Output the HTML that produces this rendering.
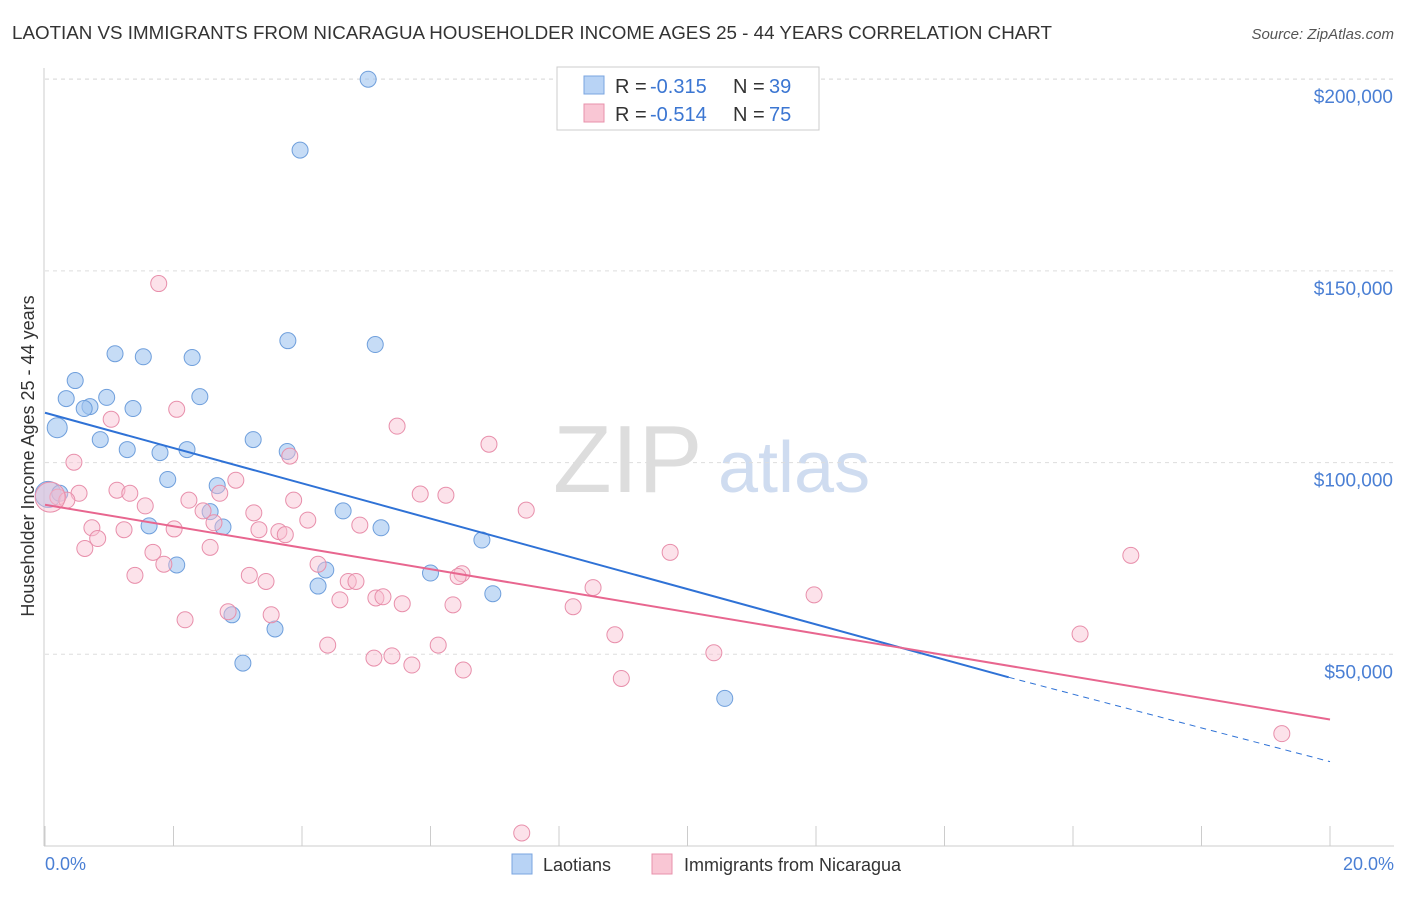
<!DOCTYPE html>
<html><head><meta charset="utf-8"><style>
body{margin:0;background:#fff;font-family:"Liberation Sans",sans-serif}
svg text{font-family:"Liberation Sans",sans-serif}
</style></head><body>
<svg id="chart" width="1406" height="892" xmlns="http://www.w3.org/2000/svg">
<text x="12" y="39" font-size="18" fill="#333" textLength="1040" lengthAdjust="spacingAndGlyphs">LAOTIAN VS IMMIGRANTS FROM NICARAGUA HOUSEHOLDER INCOME AGES 25 - 44 YEARS CORRELATION CHART</text>
<text x="1394" y="39" font-size="15" fill="#555" text-anchor="end" font-style="italic">Source: ZipAtlas.com</text>
<g><text x="553" y="492" font-size="96" fill="#ddd" font-family="Liberation Serif">ZIP</text><text x="718" y="492" font-size="72" fill="#cfdcf0">atlas</text></g>
<g id="grid"></g>
<g id="axes"></g>
<text transform="translate(34,456) rotate(-90)" font-size="18" fill="#333" text-anchor="middle">Householder Income Ages 25 - 44 years</text>
<text x="45" y="870" font-size="18" fill="#4a7fd4">0.0%</text>
<text x="1394" y="870" font-size="18" fill="#4a7fd4" text-anchor="end">20.0%</text>
<g id="pts"></g>
<g id="lines"></g>
<g>
<rect x="557" y="67" width="262" height="63" fill="#fff" stroke="#ccc"/>
<rect x="584" y="76" width="20" height="18" fill="#b8d3f5" stroke="#7aa5e0"/>
<text x="615" y="93" font-size="20" fill="#333">R =</text><text x="650" y="93" font-size="20" fill="#3b76d2">-0.315</text>
<text x="733" y="93" font-size="20" fill="#333">N =</text><text x="769" y="93" font-size="20" fill="#3b76d2">39</text>
<rect x="584" y="104" width="20" height="18" fill="#f9c6d4" stroke="#e891ab"/>
<text x="615" y="121" font-size="20" fill="#333">R =</text><text x="650" y="121" font-size="20" fill="#3b76d2">-0.514</text>
<text x="733" y="121" font-size="20" fill="#333">N =</text><text x="769" y="121" font-size="20" fill="#3b76d2">75</text>
</g>
<g>
<rect x="512" y="854" width="20" height="20" fill="#b8d3f5" stroke="#7aa5e0"/>
<text x="543" y="871" font-size="18" fill="#333">Laotians</text>
<rect x="652" y="854" width="20" height="20" fill="#f9c6d4" stroke="#e891ab"/>
<text x="684" y="871" font-size="18" fill="#333">Immigrants from Nicaragua</text>
</g>
</svg>
<script>
const yTicks=[50000,100000,150000,200000];
const yTickLabels=["$50,000","$100,000","$150,000","$200,000"];
const blueX=[5.03,3.97,3.78,5.14,1.09,1.53,2.29,0.47,0.33,0.96,2.41,0.70,0.61,1.37,0.19,0.86,1.28,1.79,2.21,3.24,3.77,1.91,2.68,0.05,0.23,2.57,1.62,2.77,4.64,5.23,6.80,2.05,4.37,4.25,6.00,6.97,2.91,3.58,3.08,10.58];
const blueY=[200000,181500,131800,130800,128400,127600,127400,121400,116700,117000,117200,114600,114100,114100,109100,106000,103400,102600,103400,106000,102900,95600,94000,91700,92000,87200,83500,83200,87400,83000,79800,73300,72000,67800,71200,65800,60300,56600,47700,38500];
const pinkX=[1.77,2.05,1.03,5.48,6.91,3.81,0.45,2.97,0.53,1.12,1.32,5.84,6.24,2.72,2.24,3.87,0.20,0.34,1.56,2.46,3.25,4.09,4.90,7.49,0.73,1.23,2.01,2.63,3.33,3.64,3.74,0.82,0.62,2.57,1.68,9.73,16.90,1.85,4.25,1.40,3.18,3.44,4.72,4.84,6.49,6.43,8.53,4.59,5.15,5.26,5.56,6.35,8.22,11.97,2.85,3.52,2.18,8.87,16.11,4.40,6.12,5.40,5.12,5.71,6.51,10.41,8.97,19.25,7.42,0.08];
const pinkY=[146700,113900,111300,109500,104800,101700,100100,95400,92000,92800,92000,91800,91500,92000,90200,90200,91000,90200,88700,87400,86900,85000,83700,87600,83000,82500,82700,84300,82500,82000,81200,80200,77600,77900,76600,76600,75800,73500,73500,70600,70600,69000,69000,69000,71000,70300,67400,64200,64700,65000,63200,62900,62400,65500,61100,60300,59000,55100,55300,52400,52400,49600,49000,47200,45900,50400,43700,29300,3400,91000];
const pinkR=Array(pinkX.length).fill(8);pinkR[pinkR.length-1]=15;
const blueR=Array(blueX.length).fill(8);blueR[23]=13;blueR[14]=10;
const blueTrend=[[0,113000],[15,44000],[20,22000]];
const pinkTrend=[[0,89000],[20,33000]];
const X=v=>45+v/20*1285, Y=v=>846-v/50000*191.7;
const NS="http://www.w3.org/2000/svg";
function mk(p,t,a){const e=document.createElementNS(NS,t);for(const k in a)e.setAttribute(k,a[k]);document.getElementById(p).appendChild(e);return e;}
yTicks.forEach((t,i)=>{
 const g=mk('grid','line',{x1:45,x2:1394,y1:Y(t),y2:Y(t),stroke:'#ddd','stroke-dasharray':'4,4'});
 
 
 const l=mk('grid','text',{x:1393,y:Y(t)+24,'font-size':19,fill:'#4a7fd4','text-anchor':'end'});l.textContent=yTickLabels[i];
 
 
});
mk('grid','line',{x1:45,x2:1394,y1:79,y2:79,stroke:'#ddd','stroke-dasharray':'4,4'});
mk('axes','line',{x1:44,x2:44,y1:68,y2:846,stroke:'#ccc'});
mk('axes','line',{x1:44,x2:1394,y1:846,y2:846,stroke:'#ccc'});
for(let i=0;i<=10;i++){const t=mk('axes','line',{x1:X(i*2),x2:X(i*2),y1:826,y2:846,stroke:'#ccc'});
 
 }
blueX.forEach((x,i)=>{const c=mk('pts','circle',{cx:X(x),cy:Y(blueY[i]),r:blueR[i],fill:'rgba(160,196,240,0.6)',stroke:'#6f9fdc','stroke-width':1});
 
 });
pinkX.forEach((x,i)=>{const c=mk('pts','circle',{cx:X(x),cy:Y(pinkY[i]),r:pinkR[i],fill:'rgba(248,190,208,0.45)',stroke:'#e88fab','stroke-width':1});
 
 });
let b=mk('lines','line',{x1:X(blueTrend[0][0]),y1:Y(blueTrend[0][1]),x2:X(blueTrend[1][0]),y2:Y(blueTrend[1][1]),stroke:'#2f72d6','stroke-width':2});


let bd=mk('lines','line',{x1:X(blueTrend[1][0]),y1:Y(blueTrend[1][1]),x2:X(blueTrend[2][0]),y2:Y(blueTrend[2][1]),stroke:'#2f72d6','stroke-width':1,'stroke-dasharray':'6,5'});


let p=mk('lines','line',{x1:X(pinkTrend[0][0]),y1:Y(pinkTrend[0][1]),x2:X(pinkTrend[1][0]),y2:Y(pinkTrend[1][1]),stroke:'#e8668f','stroke-width':2});


</script>
</body></html>
